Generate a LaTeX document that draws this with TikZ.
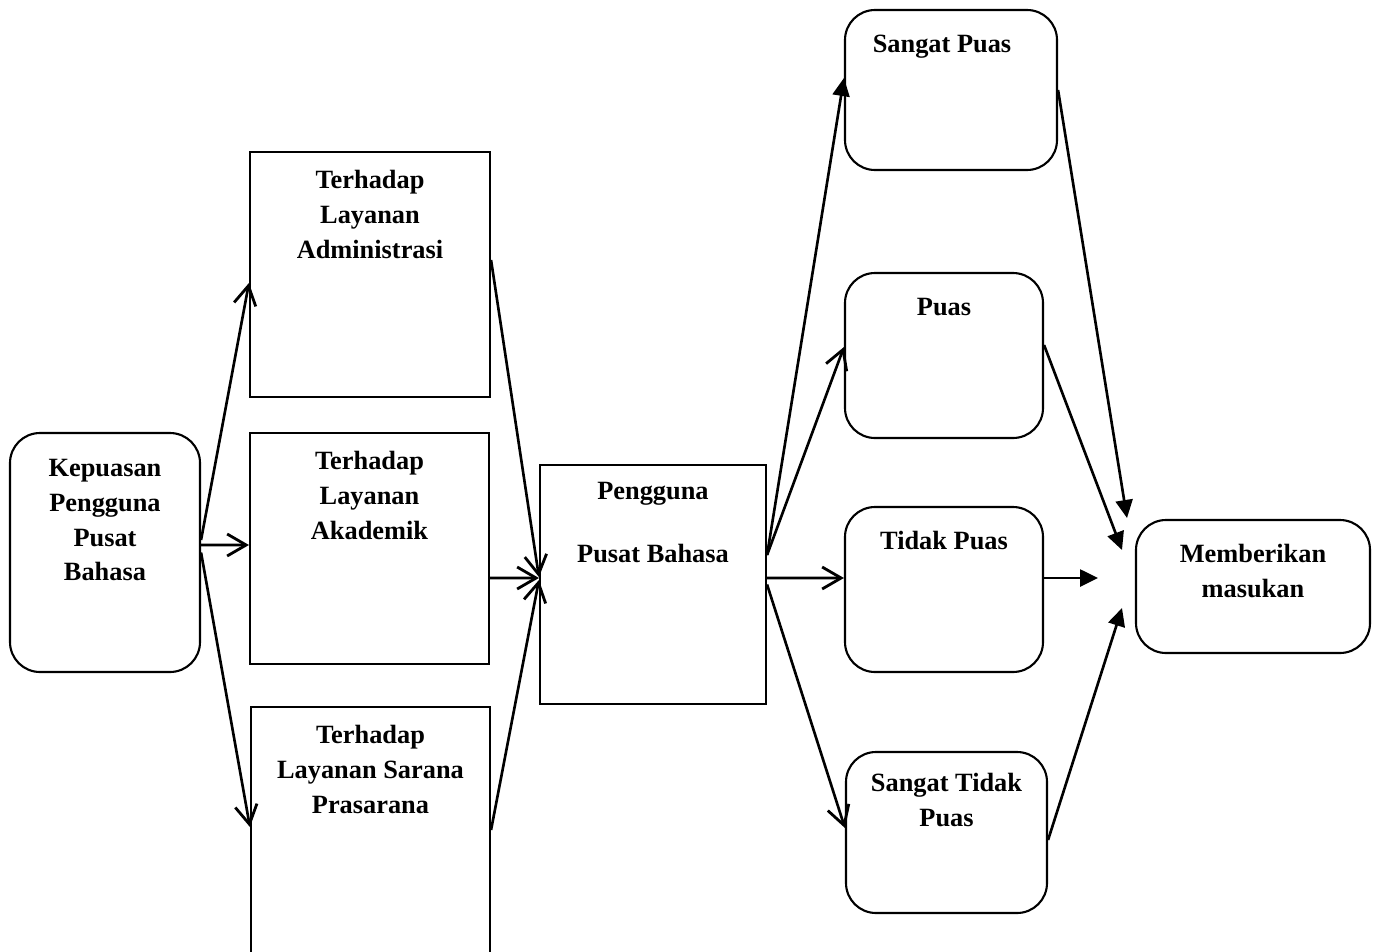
\documentclass[tikz,border=0pt]{standalone}
\usepackage{fontspec}
\setmainfont{Liberation Serif}
\usepackage{tikz}
\usetikzlibrary{positioning,arrows.meta}
\tikzset{
  openarrow/.style={-{Straight Barb[length=3.8mm, width=4.4mm, line width=1.6pt]}, line width=1.5pt},
  solidarrow/.style={-{Triangle[length=3.6mm, width=3.4mm]}, line width=1.5pt},
  roundbox/.style={draw, rounded corners=0.6cm, line width=1.2pt, inner sep=0pt},
  squarebox/.style={draw, line width=1.2pt, inner sep=0pt},
  boxlabel/.style={font=\fontsize{15}{19.8}\selectfont\bfseries, align=center, inner sep=0pt, anchor=north}
}
\begin{document}
\begin{tikzpicture}
  \useasboundingbox (0,0) rectangle (27.54,-19.02);

  % boxes
  \node[roundbox, minimum width=3.8cm, minimum height=4.78cm] (kep) at (2.10,-11.05) {};
  \node[squarebox, minimum width=4.8cm, minimum height=4.9cm] (adm) at (7.40,-5.49) {};
  \node[squarebox, minimum width=4.78cm, minimum height=4.62cm] (aka) at (7.39,-10.97) {};
  \node[squarebox, minimum width=4.78cm, minimum height=5.16cm] (sar) at (7.41,-16.72) {};
  \node[squarebox, minimum width=4.52cm, minimum height=4.78cm] (pgn) at (13.06,-11.69) {};
  \node[roundbox, minimum width=4.24cm, minimum height=3.2cm] (sp) at (19.02,-1.80) {};
  \node[roundbox, minimum width=3.96cm, minimum height=3.3cm] (p) at (18.88,-7.11) {};
  \node[roundbox, minimum width=3.96cm, minimum height=3.3cm] (tp) at (18.88,-11.79) {};
  \node[roundbox, minimum width=4.02cm, minimum height=3.22cm] (stp) at (18.93,-16.65) {};
  \node[roundbox, minimum width=4.68cm, minimum height=2.66cm] (mb) at (25.06,-11.73) {};

  % texts at the top of each box
  \node[boxlabel, below=0.54cm of kep.north] (kepT) {Kepuasan\\Pengguna\\Pusat\\Bahasa};
  \node[boxlabel, below=0.38cm of adm.north] (admT) {Terhadap\\Layanan\\Administrasi};
  \node[boxlabel, below=0.38cm of aka.north] (akaT) {Terhadap\\Layanan\\Akademik};
  \node[boxlabel, below=0.38cm of sar.north] (sarT) {Terhadap\\Layanan Sarana\\Prasarana};
  \node[boxlabel, below=0.36cm of pgn.north] (pgnT) {Pengguna\\[16pt]Pusat Bahasa};
  \node[boxlabel, below=0.52cm of sp.north, xshift=-0.18cm] (spT) {Sangat Puas};
  \node[boxlabel, below=0.52cm of p.north] (pT) {Puas};
  \node[boxlabel, below=0.50cm of tp.north] (tpT) {Tidak Puas};
  \node[boxlabel, below=0.44cm of stp.north] (stpT) {Sangat Tidak\\Puas};
  \node[boxlabel, below=0.50cm of mb.north] (mbT) {Memberikan\\masukan};

  % loose ends in front of Memberikan masukan
  \coordinate (inSP) at (22.54,-10.36);
  \coordinate (inP) at (22.44,-11.00);
  \coordinate (inTP) at (21.96,-11.56);
  \coordinate (inSTP) at (22.44,-12.16);

  % kepuasan -> layanan
  \draw[openarrow] ([yshift=0.25cm]kep.east) -- ([yshift=-0.17cm]adm.west);
  \draw[openarrow] ([yshift=0.15cm]kep.east) -- ([yshift=0.07cm]aka.west);
  \draw[openarrow] (kep.east) -- ([yshift=0.18cm]sar.west);

  % layanan -> pengguna
  \draw[openarrow] ([yshift=0.29cm]adm.east) -- ([yshift=0.15cm]pgn.west);
  \draw[openarrow] ([yshift=-0.59cm]aka.east) -- ([yshift=0.13cm]pgn.west);
  \draw[openarrow] ([yshift=0.12cm]sar.east) -- ([yshift=0.09cm]pgn.west);

  % pengguna -> tingkat kepuasan
  \draw[solidarrow] ([yshift=0.59cm]pgn.east) -- ([yshift=0.24cm]sp.west);
  \draw[openarrow] ([yshift=0.59cm]pgn.east) -- ([yshift=0.17cm]p.west);
  \draw[openarrow] ([yshift=0.13cm]pgn.east) -- ([yshift=0.23cm]tp.west);
  \draw[openarrow] (pgn.east) -- ([yshift=0.09cm]stp.west);

  % tingkat kepuasan -> masukan
  \draw[solidarrow] (sp.east) -- (inSP);
  \draw[solidarrow] ([yshift=0.21cm]p.east) -- (inP);
  \draw[solidarrow] ([yshift=0.23cm]tp.east) -- (inTP);
  \draw[solidarrow] ([yshift=-0.15cm]stp.east) -- (inSTP);
\end{tikzpicture}
\end{document}
